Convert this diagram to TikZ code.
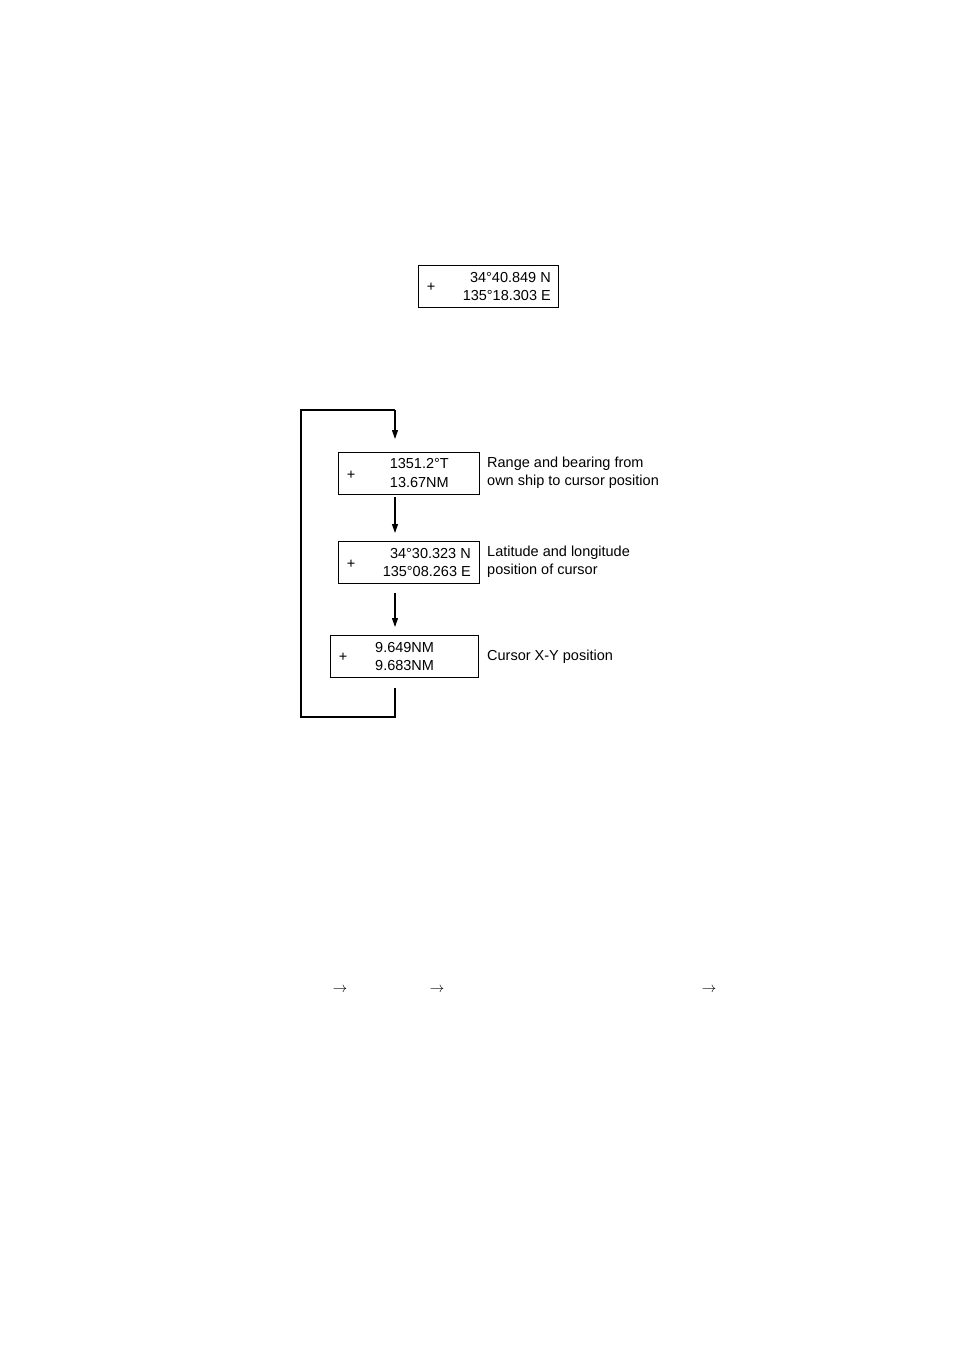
\documentclass[tikz,border=0pt]{standalone}
\usepackage{fontspec}
\setmainfont{Liberation Sans}
\usetikzlibrary{arrows.meta}
\begin{document}
\begin{tikzpicture}[x=1pt,y=-1pt,
  box/.style={draw,line width=1.3pt,minimum width=#1,minimum height=42pt,inner sep=0,anchor=north west},
  txt/.style={font=\fontsize{14.5}{18}\selectfont,inner sep=0},
  conn/.style={line width=1.1pt,-{Triangle[length=9pt,width=6pt]}},
  wire/.style={line width=1.1pt}]
\useasboundingbox (0,0) rectangle (954,1350);
\node[box=140pt] (b0) at (418,265) {};
\node[txt] at (431,287) {+};
\node[txt,align=right,anchor=east] at (551,287) {34°40.849 N\\135°18.303 E};

\node[box=141pt] (b1) at (338,452) {};
\node[txt] at (351,475) {+};
\node[txt,align=right,anchor=east] at (449,473) {1351.2°T\\13.67NM};
\node[txt,align=left,anchor=west] at (487,473) {Range and bearing from\\own ship to cursor position};

\node[box=141pt] (b2) at (338,541) {};
\node[txt] at (351,564) {+};
\node[txt,align=right,anchor=east] at (471,562) {34°30.323 N\\135°08.263 E};
\node[txt,align=left,anchor=west] at (487,562) {Latitude and longitude\\position of cursor};

\node[box=148pt] (b3) at (330,635) {};
\node[txt] at (343,657) {+};
\node[txt,align=left,anchor=west] at (375,656) {9.649NM\\9.683NM};
\node[txt,anchor=west] at (487,657) {Cursor X-Y position};

\coordinate (s1) at (395,497); \coordinate (e1) at (395,533);
\coordinate (s2) at (395,593); \coordinate (e2) at (395,627);
\draw[conn] (s1) -- (e1);
\draw[conn] (s2) -- (e2);
\coordinate (l0) at (395,688); \coordinate (l1) at (395,717);
\coordinate (l2) at (301,717); \coordinate (l3) at (301,410);
\coordinate (l4) at (395,410); \coordinate (l5) at (395,439);
\draw[wire] (l0) -- (l1) -- (l2) -- (l3) -- (l4);
\draw[conn] (l4) -- (l5);

\node[txt] at (340,990) {$\rightarrow$};
\node[txt] at (437,990) {$\rightarrow$};
\node[txt] at (709,990) {$\rightarrow$};
\end{tikzpicture}
\end{document}
